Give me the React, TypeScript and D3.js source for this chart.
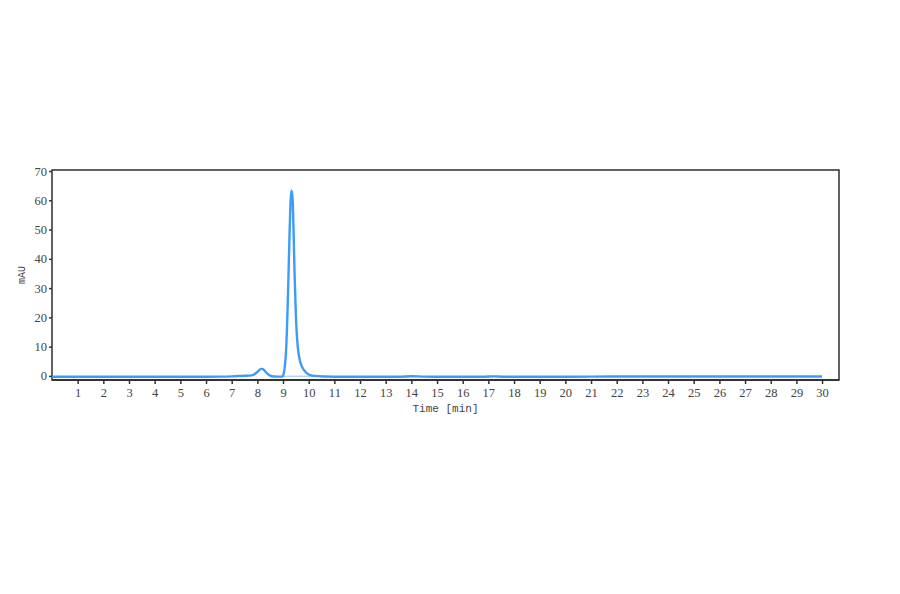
import React, { useEffect, useRef } from "react";
import * as d3 from "d3";

// chromatogram trace: time [min] and signal [mAU]
const times = [
  0, 2, 4, 6, 6.6, 7.0, 7.4, 7.7, 7.85, 7.95, 8.05, 8.15, 8.22, 8.3, 8.4, 8.5, 8.65, 8.85, 8.97,
  9.02, 9.06, 9.1, 9.15, 9.2, 9.25, 9.29, 9.33, 9.37, 9.41, 9.45, 9.5, 9.55, 9.6, 9.68, 9.76,
  9.86, 10.0, 10.2, 10.6, 11.5, 13.5, 14.0, 14.5, 15.5, 16.8, 17.2, 17.6, 20, 22, 25, 28, 30,
];
const signal = [
  -0.3, -0.3, -0.3, -0.3, -0.25, -0.15, 0, 0.1, 0.4, 1.0, 1.8, 2.4, 2.3, 1.6, 0.7, 0.1, -0.2, -0.25, -0.2,
  0.6, 2.5, 6, 15, 30, 47, 59, 63.4, 61, 50, 35, 21, 12.5, 8, 4.5, 2.8,
  1.5, 0.5, 0, -0.2, -0.3, -0.3, -0.1, -0.25, -0.3, -0.3, -0.15, -0.3, -0.3, -0.2, -0.2, -0.2, -0.2,
];

const xTicks = d3.range(1, 31);
const yTicks = [0, 10, 20, 30, 40, 50, 60, 70];

const W = 900;
const H = 594;
const plot = { left: 52, right: 839, top: 170, bottom: 380 };

const App: React.FC = () => {
  const svgRef = useRef<SVGSVGElement | null>(null);

  useEffect(() => {
    if (!svgRef.current) return;
    const svg = d3.select(svgRef.current);
    svg.selectAll("*").remove();

    const x = d3.scaleLinear().domain([0, 30.66]).range([plot.left, plot.right]);
    const y = d3.scaleLinear().domain([-1.4, 70.35]).range([plot.bottom, plot.top]);

    const font = "'Liberation Serif', 'DejaVu Serif', serif";
    const mono = "'Liberation Mono', 'DejaVu Sans Mono', monospace";

    // x axis
    const xAxis = svg
      .append("g")
      .attr("transform", `translate(0,${plot.bottom})`)
      .call(
        d3
          .axisBottom(x)
          .tickValues(xTicks)
          .tickSize(4)
          .tickPadding(4)
          .tickFormat((d) => String(d))
      );
    xAxis.select(".domain").remove();
    xAxis.selectAll("line").attr("stroke", "#333").attr("stroke-width", 1.5);
    xAxis
      .selectAll("text")
      .attr("fill", "#444")
      .style("font-family", font)
      .style("font-size", "12.5px");

    // y axis
    const yAxis = svg
      .append("g")
      .attr("transform", `translate(${plot.left},0)`)
      .call(d3.axisLeft(y).tickValues(yTicks).tickSize(3).tickPadding(2));
    yAxis.select(".domain").remove();
    yAxis.selectAll("line").attr("stroke", "#333").attr("stroke-width", 1.5);
    yAxis
      .selectAll("text")
      .attr("fill", "#444")
      .style("font-family", font)
      .style("font-size", "12.5px");

    // frame
    svg
      .append("rect")
      .attr("x", plot.left)
      .attr("y", plot.top)
      .attr("width", plot.right - plot.left)
      .attr("height", plot.bottom - plot.top)
      .attr("fill", "none")
      .attr("stroke", "#3a3a3a")
      .attr("stroke-width", 1.6);
    svg
      .append("line")
      .attr("x1", plot.left)
      .attr("x2", plot.right)
      .attr("y1", plot.bottom)
      .attr("y2", plot.bottom)
      .attr("stroke", "#333")
      .attr("stroke-width", 2.2);

    // faint drawn baseline under the main peak
    svg
      .append("line")
      .attr("x1", x(8.97))
      .attr("x2", x(10.3))
      .attr("y1", y(-0.1))
      .attr("y2", y(-0.1))
      .attr("stroke", "#8cc2fa")
      .attr("stroke-width", 1);

    const points: [number, number][] = times.map((t, i) => [t, signal[i]]);
    const line = d3
      .line<[number, number]>()
      .x((d) => x(d[0]))
      .y((d) => y(d[1]))
      .curve(d3.curveMonotoneX);

    svg
      .append("path")
      .datum(points)
      .attr("fill", "none")
      .attr("stroke", "#3f9bfa")
      .attr("stroke-width", 2.4)
      .attr("stroke-linejoin", "round")
      .attr("d", line);

    // axis titles
    svg
      .append("text")
      .attr("x", (plot.left + plot.right) / 2)
      .attr("y", 412)
      .attr("text-anchor", "middle")
      .attr("fill", "#444")
      .style("font-family", mono)
      .style("font-size", "11px")
      .text("Time [min]");

    svg
      .append("text")
      .attr("transform", `translate(25,${(plot.top + plot.bottom) / 2}) rotate(-90)`)
      .attr("text-anchor", "middle")
      .attr("fill", "#444")
      .style("font-family", mono)
      .style("font-size", "10px")
      .text("mAU");
  }, []);

  return (
    <div style={{ position: "absolute", left: 0, top: 0, width: W, height: H, background: "#fff" }}>
      <svg ref={svgRef} width={W} height={H} />
    </div>
  );
};

export default App;
